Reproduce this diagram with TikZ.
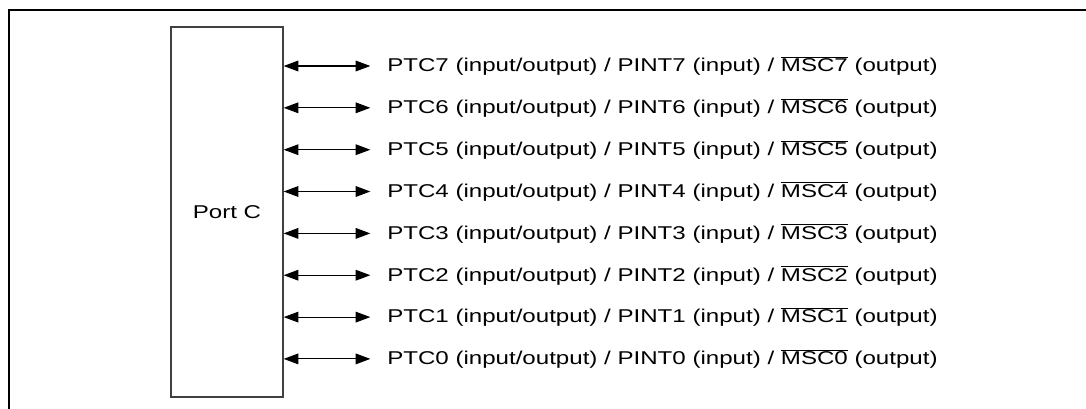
\documentclass[tikz,border=0pt]{standalone}
\usepackage{fontspec}
\setmainfont{Liberation Sans}[FakeStretch=1.3]
\usetikzlibrary{arrows.meta}
\newcommand{\nbar}[1]{$\overline{\hbox{#1}}$}

\begin{document}
\begin{tikzpicture}[x=0.75pt, y=-0.75pt, font=\fontsize{13.9pt}{16pt}\selectfont,
  blk/.style={draw=black!75, line width=1pt, minimum width=84pt, minimum height=277.5pt, inner sep=0pt},
  lbl/.style={anchor=west, inner sep=0pt},
  bidir/.style={{Triangle[length=11pt,width=8pt]}-{Triangle[length=11pt,width=8pt]}, line width=0.8pt, shorten >=12.5pt}]
  \clip (0,0) rectangle (1086,408);
  % outer frame (runs off the page on the right and at the bottom)
  \draw[line width=1.6pt] (9,430) -- (9,10) -- (1110,10);
  \node[blk] (portc) at (227,212) {Port C};
  \node[lbl] (ptc7) at (387,66.0) {PTC7 (input/output) / PINT7 (input) / \nbar{MSC7} (output)};
  \node[lbl] (ptc6) at (387,107.8) {PTC6 (input/output) / PINT6 (input) / \nbar{MSC6} (output)};
  \node[lbl] (ptc5) at (387,149.7) {PTC5 (input/output) / PINT5 (input) / \nbar{MSC5} (output)};
  \node[lbl] (ptc4) at (387,191.5) {PTC4 (input/output) / PINT4 (input) / \nbar{MSC4} (output)};
  \node[lbl] (ptc3) at (387,233.4) {PTC3 (input/output) / PINT3 (input) / \nbar{MSC3} (output)};
  \node[lbl] (ptc2) at (387,275.2) {PTC2 (input/output) / PINT2 (input) / \nbar{MSC2} (output)};
  \node[lbl] (ptc1) at (387,317.1) {PTC1 (input/output) / PINT1 (input) / \nbar{MSC1} (output)};
  \node[lbl] (ptc0) at (387,358.9) {PTC0 (input/output) / PINT0 (input) / \nbar{MSC0} (output)};
  \draw[bidir] (portc.east |- ptc7.west) -- (ptc7.west);
  \draw[bidir] (portc.east |- ptc6.west) -- (ptc6.west);
  \draw[bidir] (portc.east |- ptc5.west) -- (ptc5.west);
  \draw[bidir] (portc.east |- ptc4.west) -- (ptc4.west);
  \draw[bidir] (portc.east |- ptc3.west) -- (ptc3.west);
  \draw[bidir] (portc.east |- ptc2.west) -- (ptc2.west);
  \draw[bidir] (portc.east |- ptc1.west) -- (ptc1.west);
  \draw[bidir] (portc.east |- ptc0.west) -- (ptc0.west);
\end{tikzpicture}
\end{document}
